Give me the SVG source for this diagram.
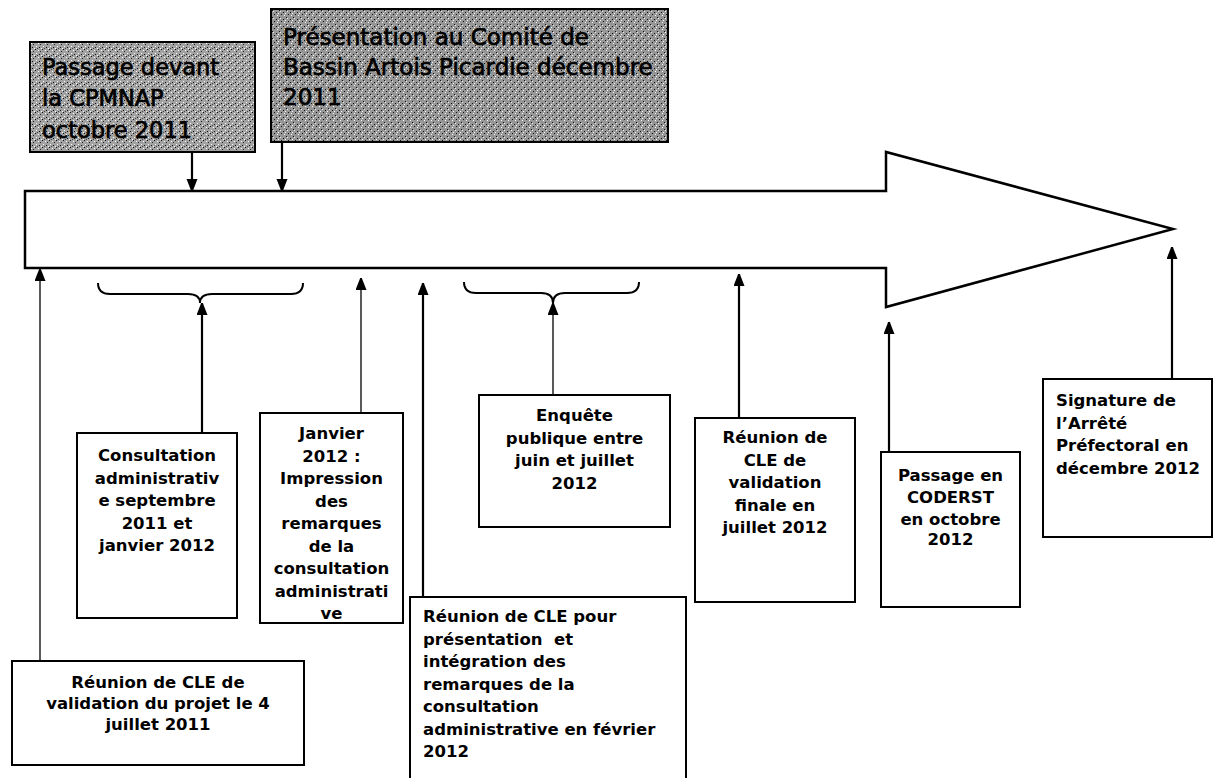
<svg xmlns="http://www.w3.org/2000/svg" width="1219" height="778" viewBox="0 0 1219 778">
  <style>
    .box { fill: #ffffff; stroke: #000000; stroke-width: 2; }
    .gbox { stroke: #000000; stroke-width: 2; }
    .lbl { font-family: "DejaVu Sans", "Liberation Sans", sans-serif; font-weight: bold; font-size: 16.5px; fill: #000000; }
    .mid { text-anchor: middle; }
    .top { font-family: "DejaVu Sans", "Liberation Sans", sans-serif; font-size: 22.5px; fill: #000000; stroke: #000000; stroke-width: 0.7; }
    .con { fill: none; stroke: #000000; }
    .thin { stroke-width: 1.3; }
    .thick { stroke-width: 2.2; }
  </style>
  <defs>
    <pattern id="noise" width="7" height="7" patternUnits="userSpaceOnUse">
      <rect width="7" height="7" fill="#a2a2a2"/>
      <rect x="0" y="0" width="1" height="1" fill="#111"/>
      <rect x="3" y="1" width="1" height="1" fill="#fff"/>
      <rect x="5" y="2" width="1" height="1" fill="#222"/>
      <rect x="1" y="4" width="1" height="1" fill="#fff"/>
      <rect x="4" y="5" width="1" height="1" fill="#111"/>
      <rect x="6" y="6" width="1" height="1" fill="#fff"/>
      <rect x="2" y="6" width="1" height="1" fill="#444"/>
    </pattern>
    <pattern id="noise2" width="7" height="7" patternUnits="userSpaceOnUse">
      <rect width="7" height="7" fill="#969696"/>
      <rect x="1" y="0" width="1" height="1" fill="#111"/>
      <rect x="4" y="1" width="1" height="1" fill="#fff"/>
      <rect x="6" y="3" width="1" height="1" fill="#111"/>
      <rect x="0" y="4" width="1" height="1" fill="#eee"/>
      <rect x="3" y="5" width="1" height="1" fill="#111"/>
      <rect x="5" y="6" width="1" height="1" fill="#fff"/>
    </pattern>
    <marker id="ah" markerUnits="userSpaceOnUse" markerWidth="12" markerHeight="16" refX="12" refY="5.5" orient="auto">
      <path d="M0,0 L14,5.5 L0,11 Z" fill="#000000"/>
    </marker>
  </defs>

  <g id="timeline-arrow">
    <polygon points="25,191 886,191 886,152 1173,229 886,307 886,268 25,268" fill="#ffffff" stroke="#000000" stroke-width="2.5" stroke-linejoin="miter"/>
  </g>

  <g id="connectors">
    <line class="con thick" x1="192" y1="152" x2="192" y2="191" marker-end="url(#ah)"/>
    <line class="con thick" x1="282" y1="142" x2="282" y2="191" marker-end="url(#ah)"/>
    <line class="con thin" x1="40" y1="661" x2="40" y2="269" marker-end="url(#ah)"/>
    <line class="con thick" x1="202" y1="433" x2="202" y2="303" marker-end="url(#ah)"/>
    <line class="con thin" x1="361" y1="413" x2="361" y2="278" marker-end="url(#ah)"/>
    <line class="con thick" x1="423" y1="597" x2="423" y2="283" marker-end="url(#ah)"/>
    <line class="con thin" x1="553" y1="395" x2="553" y2="303" marker-end="url(#ah)"/>
    <line class="con thick" x1="739" y1="418" x2="739" y2="274" marker-end="url(#ah)"/>
    <line class="con thick" x1="889" y1="452" x2="889" y2="322" marker-end="url(#ah)"/>
    <line class="con thick" x1="1172" y1="379" x2="1172" y2="247" marker-end="url(#ah)"/>
    <path class="con" stroke-width="2" d="M98,283 Q98,294 110,294 L188,294 Q200,294 200,303 Q200,294 212,294 L291,294 Q303,294 303,283"/>
    <path class="con" stroke-width="2" d="M464,282 Q464,293 476,293 L541,293 Q553,293 553,303 Q553,293 565,293 L627,293 Q639,293 639,282"/>
  </g>

  <g id="node-cpmnap">
    <rect class="gbox" x="30" y="42" width="225" height="110" fill="url(#noise)"/>
    <text class="top" x="42" y="75">Passage devant</text>
    <text class="top" x="42" y="106">la CPMNAP</text>
    <text class="top" x="42" y="138">octobre 2011</text>
  </g>

  <g id="node-comite">
    <rect class="gbox" x="271" y="9" width="397" height="133" fill="url(#noise2)" stroke-width="3"/>
    <text class="top" x="283" y="45" style="font-size:23px">Présentation au Comité de</text>
    <text class="top" x="283" y="75" style="font-size:23px">Bassin Artois Picardie décembre</text>
    <text class="top" x="283" y="105" style="font-size:23px">2011</text>
  </g>

  <g id="node-consultation">
    <rect class="box" x="77" y="433" width="160" height="185"/>
    <text class="lbl mid" x="157" y="461">Consultation</text>
    <text class="lbl mid" x="157" y="483.5">administrativ</text>
    <text class="lbl mid" x="157" y="506">e septembre</text>
    <text class="lbl mid" x="157" y="528.5">2011 et</text>
    <text class="lbl mid" x="157" y="551">janvier 2012</text>
  </g>

  <g id="node-janvier">
    <rect class="box" x="260" y="413" width="143" height="210"/>
    <text class="lbl mid" x="331.5" y="439">Janvier</text>
    <text class="lbl mid" x="331.5" y="461.5">2012 :</text>
    <text class="lbl mid" x="331.5" y="484">Impression</text>
    <text class="lbl mid" x="331.5" y="506.5">des</text>
    <text class="lbl mid" x="331.5" y="529">remarques</text>
    <text class="lbl mid" x="331.5" y="551.5">de la</text>
    <text class="lbl mid" x="331.5" y="574">consultation</text>
    <text class="lbl mid" x="331.5" y="596.5">administrati</text>
    <text class="lbl mid" x="331.5" y="619">ve</text>
  </g>

  <g id="node-reunion-validation">
    <rect class="box" x="12" y="661" width="292" height="104"/>
    <text class="lbl mid" x="158" y="688">Réunion de CLE de</text>
    <text class="lbl mid" x="158" y="709">validation du projet le 4</text>
    <text class="lbl mid" x="158" y="730">juillet 2011</text>
  </g>

  <g id="node-reunion-presentation">
    <rect class="box" x="410" y="597" width="276" height="190"/>
    <text class="lbl" x="423" y="622">Réunion de CLE pour</text>
    <text class="lbl" x="423" y="644.5" xml:space="preserve">présentation  et</text>
    <text class="lbl" x="423" y="667">intégration des</text>
    <text class="lbl" x="423" y="689.5">remarques de la</text>
    <text class="lbl" x="423" y="712">consultation</text>
    <text class="lbl" x="423" y="734.5">administrative en février</text>
    <text class="lbl" x="423" y="757">2012</text>
  </g>

  <g id="node-enquete">
    <rect class="box" x="479" y="395" width="191" height="132"/>
    <text class="lbl mid" x="574.5" y="421">Enquête</text>
    <text class="lbl mid" x="574.5" y="443.5">publique entre</text>
    <text class="lbl mid" x="574.5" y="466">juin et juillet</text>
    <text class="lbl mid" x="574.5" y="488.5">2012</text>
  </g>

  <g id="node-reunion-finale">
    <rect class="box" x="695" y="418" width="160" height="184"/>
    <text class="lbl mid" x="775" y="443">Réunion de</text>
    <text class="lbl mid" x="775" y="465.5">CLE de</text>
    <text class="lbl mid" x="775" y="488">validation</text>
    <text class="lbl mid" x="775" y="510.5">finale en</text>
    <text class="lbl mid" x="775" y="533">juillet 2012</text>
  </g>

  <g id="node-coderst">
    <rect class="box" x="881" y="452" width="139" height="155"/>
    <text class="lbl mid" x="950.5" y="481">Passage en</text>
    <text class="lbl mid" x="950.5" y="503">CODERST</text>
    <text class="lbl mid" x="950.5" y="524.5">en octobre</text>
    <text class="lbl mid" x="950.5" y="545">2012</text>
  </g>

  <g id="node-signature">
    <rect class="box" x="1043" y="379" width="169" height="158"/>
    <text class="lbl" x="1056" y="406">Signature de</text>
    <text class="lbl" x="1056" y="428.5">l’Arrêté</text>
    <text class="lbl" x="1056" y="451">Préfectoral en</text>
    <text class="lbl" x="1056" y="473.5">décembre 2012</text>
  </g>
</svg>
